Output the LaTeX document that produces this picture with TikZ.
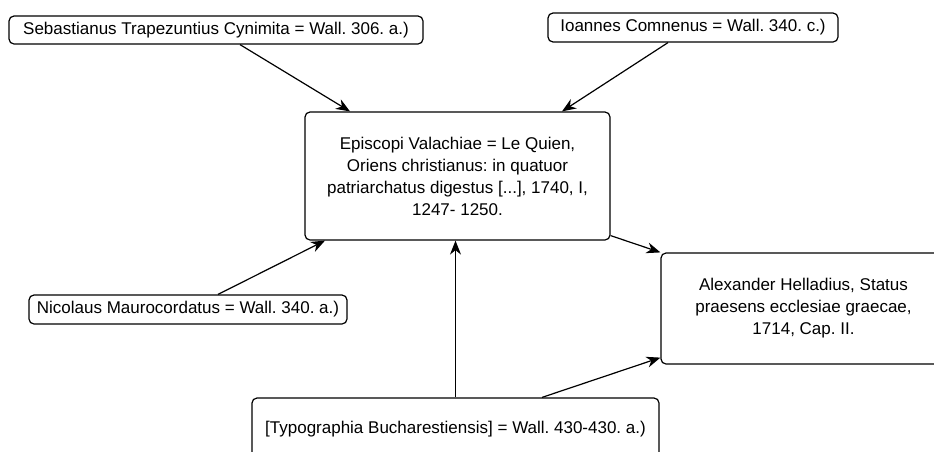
\documentclass[tikz,border=0pt]{standalone}
\usepackage{fontspec}
\setmainfont{Liberation Sans}
\usepackage{tikz}
\usetikzlibrary{arrows.meta}
\usetikzlibrary{calc}
\frenchspacing

\begin{document}
\begin{tikzpicture}[
    x=1pt, y=-1pt,
    >={Stealth[length=14pt, width=11pt, inset=4.5pt]},
    every node/.style={color=black, font=\fontsize{17}{22}\selectfont},
    source box/.style={draw, line width=1.2pt, rounded corners=5pt, inner sep=0pt, align=center},
    link/.style={->, line width=1.2pt}
    ]

    % page
    \clip (0,0) rectangle (934,451);

    % sources
    \node[source box, minimum width=414pt, minimum height=28pt] (seb) at (216,30)
        {Sebastianus Trapezuntius Cynimita = Wall. 306. a.)};
    \node[source box, minimum width=290pt, minimum height=29pt] (ioan) at (693,27.5)
        {Ioannes Comnenus = Wall. 340. c.)};
    \node[source box, minimum width=318pt, minimum height=29pt] (nico) at (188,309.5)
        {Nicolaus Maurocordatus = Wall. 340. a.)};
    \node[source box, minimum width=407pt, minimum height=62pt] (typo) at (455.5,429)
        {[Typographia Bucharestiensis] = Wall. 430-430. a.)};
    % targets
    \node[source box, minimum width=305pt, minimum height=128pt] (epis) at (457.5,176)
        {Episcopi Valachiae = Le Quien,\\ Oriens christianus: in quatuor\\ patriarchatus digestus [...], 1740, I,\\ 1247- 1250.};
    \node[source box, minimum width=285pt, minimum height=111pt] (alex) at (803.5,308.5)
        {Alexander Helladius, Status\\ praesens ecclesiae graecae,\\ 1714, Cap. II.};

    % arrows
    \draw[link] ([xshift=24pt]seb.south) -- ([xshift=-107.5pt]epis.north);
    \draw[link] ([xshift=-25pt]ioan.south) -- ([xshift=104.5pt]epis.north);
    \draw[link] ([xshift=30pt]nico.north) -- ([xshift=-132.5pt]epis.south);
    \draw[link] (typo.north) -- (typo.north |- epis.south);
    \draw[link] ([yshift=5pt]epis.south east) -- (alex.north west);
    \draw[link] ([xshift=86.5pt]typo.north) -- ([yshift=7pt]alex.south west);

\end{tikzpicture}
\end{document}
